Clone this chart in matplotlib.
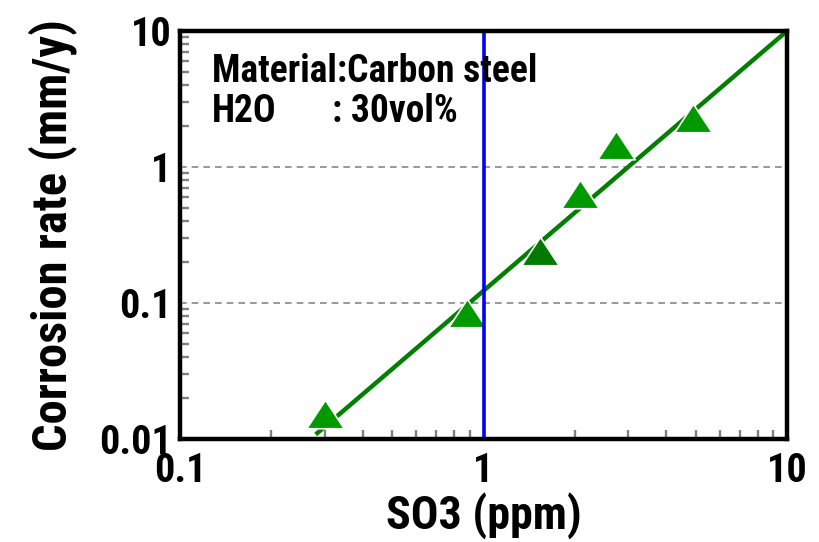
import numpy as np
import matplotlib
matplotlib.use("Agg")
import matplotlib.pyplot as plt
from matplotlib.ticker import LogLocator, NullFormatter, FixedLocator, FixedFormatter

plt.rcParams['font.family'] = ['Liberation Sans Narrow', 'Roboto Condensed',
                               'PT Sans Narrow', 'Archivo Narrow',
                               'Sofia Sans Condensed', 'DejaVu Sans']
plt.rcParams['font.weight'] = 'bold'
plt.rcParams['axes.labelweight'] = 'bold'

# measured points (SO3 ppm, corrosion rate mm/y)
so3 = [0.30, 0.88, 1.53, 2.08, 2.73, 4.89]
rate = [0.0153, 0.084, 0.242, 0.635, 1.46, 2.28]
colors = ['#009900', '#009900', '#007a00', '#009900', '#009900', '#009900']

# fitted line end points
fit_x = [0.28, 10.0]
fit_y = [0.0108, 10.0]

x_ticks = [0.1, 1, 10]
x_labels = ['0.1', '1', '10']
y_ticks = [0.01, 0.1, 1, 10]
y_labels = ['0.01', '0.1', '1', '10']

fig = plt.figure(figsize=(8.19, 5.42), dpi=100)
ax = fig.add_axes([180 / 819, 103 / 542, 607 / 819, 408 / 542])
ax.set_xscale('log')
ax.set_yscale('log')
ax.set_xlim(0.1, 10)
ax.set_ylim(0.01, 10)

ax.plot(fit_x, fit_y, color='#007f00', lw=3.2, zorder=3, solid_capstyle='butt')
ax.axvline(1, color='#0000ff', lw=2.6, zorder=4)

tri = [(0, 0.76), (-1, -0.76), (1, -0.76), (0, 0.76)]
for x, y, c in zip(so3, rate, colors):
    ax.plot(x, y, marker=tri, ms=27, color=c, mec='white', mew=1.2,
            linestyle='none', zorder=3.5)

for g in [0.1, 1]:
    ax.axhline(g, color='#888888', lw=1.2, dashes=(4, 3), zorder=1)

ax.xaxis.set_major_locator(FixedLocator(x_ticks))
ax.xaxis.set_major_formatter(FixedFormatter(x_labels))
ax.yaxis.set_major_locator(FixedLocator(y_ticks))
ax.yaxis.set_major_formatter(FixedFormatter(y_labels))
ax.xaxis.set_minor_locator(LogLocator(base=10, subs=np.arange(2, 10)))
ax.yaxis.set_minor_locator(LogLocator(base=10, subs=np.arange(2, 10)))
ax.xaxis.set_minor_formatter(NullFormatter())
ax.yaxis.set_minor_formatter(NullFormatter())

ax.tick_params(which='major', length=0, labelsize=29)
ax.tick_params(axis='x', which='major', pad=9)
ax.tick_params(axis='y', which='major', pad=6)
ax.tick_params(which='minor', direction='in', length=6.5, width=1.7,
               color='#808080')

for s in ax.spines.values():
    s.set_linewidth(3.2)
    s.set_zorder(5)

ax.set_xlabel('SO3 (ppm)', fontsize=33, fontweight='bold', labelpad=2)
ax.set_ylabel('Corrosion rate (mm/y)', fontsize=35, fontweight='bold',
              labelpad=16)

fig.text(212 / 819, 1 - 82 / 542, 'Material:Carbon steel', fontsize=27,
         fontweight='bold', ha='left', va='baseline')
fig.text(212 / 819, 1 - 122 / 542, 'H2O', fontsize=27, fontweight='bold',
         ha='left', va='baseline')
fig.text(332 / 819, 1 - 122 / 542, ': 30vol%', fontsize=27, fontweight='bold',
         ha='left', va='baseline')

fig.savefig('out.png', dpi=100)
